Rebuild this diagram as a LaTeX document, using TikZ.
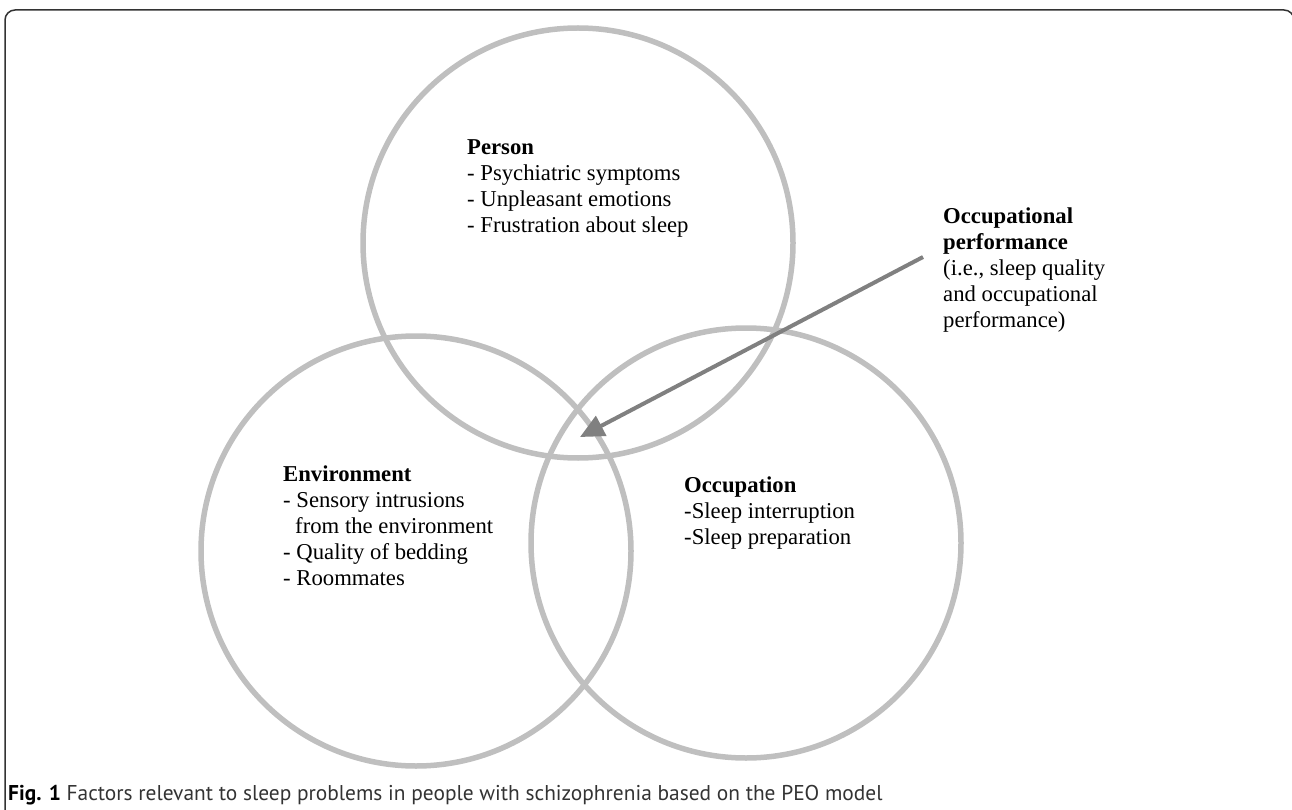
\documentclass[tikz,border=0pt]{standalone}
\usepackage{fontspec}
\setmainfont{Liberation Serif}
\newfontfamily\capfont{PT Sans}
\usetikzlibrary{arrows.meta}
\definecolor{ringgray}{HTML}{BFBFBF}
\definecolor{arrowgray}{HTML}{808080}
\definecolor{capgray}{HTML}{333333}
\tikzset{ring/.style={draw=ringgray,line width=5.5pt},
  factors/.style={align=left,inner sep=0pt,anchor=base west,font=\fontsize{22.7}{26}\selectfont},
  perf/.style={draw=arrowgray,line width=4pt,-{Triangle[length=24pt,width=22pt]}}}

\begin{document}
\begin{tikzpicture}[x=1pt,y=-1pt]
          \useasboundingbox (0,0) rectangle (1292,810);
          \def\r{215pt}
          % frame, open at the bottom
          \draw[line width=1.5pt,capgray,rounded corners=10pt] (5,815) -- (5,10) -- (1294,10) -- (1294,815);

          \draw[ring] (578,243) circle (\r);
          \draw[ring] (416,551) circle (\r);
          \draw[ring] (746,543) circle (\r);

          % base anchor sits on the last line
          \node[factors] (person) at (467,233) {\textbf{Person}\\- Psychiatric symptoms\\- Unpleasant emotions\\- Frustration about sleep};
          \node[factors] (environment) at (283,585) {\textbf{Environment}\\- Sensory intrusions\\\hspace*{12pt}from the environment\\- Quality of bedding\\- Roommates};
          \node[factors] (occupation) at (684,544) {\textbf{Occupation}\\-Sleep interruption\\-Sleep preparation};
          \node[factors] (performance) at (943,327) {\textbf{Occupational}\\\textbf{performance}\\(i.e., sleep quality\\and occupational\\performance)};

          \coordinate (perfstart) at (923,257);
          \coordinate (overlap) at (580,437);
          \draw[perf] (perfstart) -- (overlap);

          \node[anchor=base west,inner sep=0pt,text=capgray,font=\capfont\fontsize{21.4}{25}\selectfont] (caption) at (8,800) {\textbf{\color{black}Fig. 1} Factors relevant to sleep problems in people with schizophrenia based on the PEO model};
        \end{tikzpicture}
\end{document}
